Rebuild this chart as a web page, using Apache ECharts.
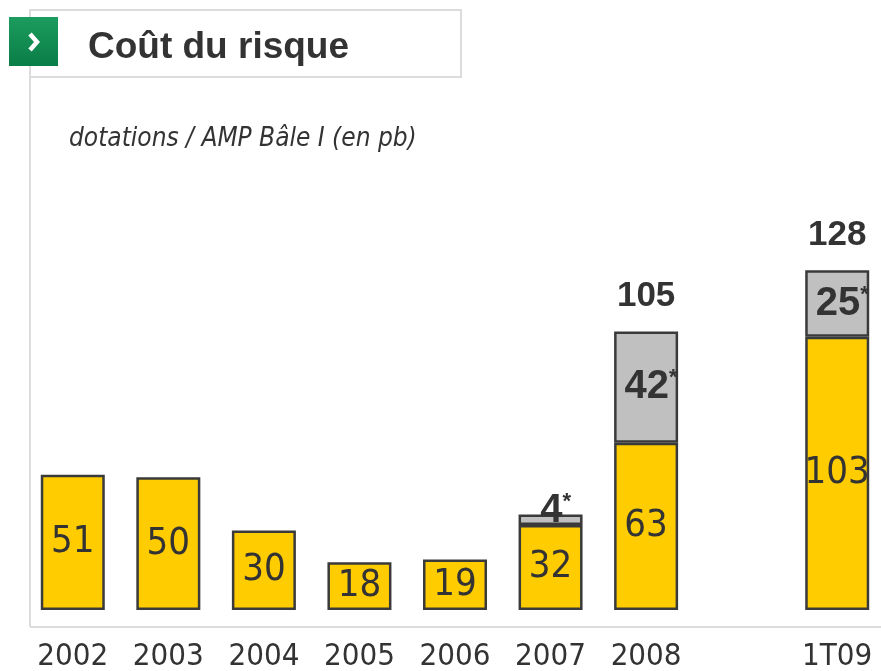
<!DOCTYPE html>
<html>
<head>
<meta charset="utf-8">
<title>Coût du risque</title>
<script src="https://cdn.jsdelivr.net/npm/echarts@6/dist/echarts.min.js"></script>
<style>
  html, body { margin: 0; padding: 0; background: #fff; }
  #chart { width: 881px; height: 671px; }
</style>
</head>
<body>
<div id="chart"></div>
<script>
  // catégories (un emplacement vide entre 2008 et 1T09)
  const categories = ['2002', '2003', '2004', '2005', '2006', '2007', '2008', '', '1T09']
  // dotations hors éléments exceptionnels (jaune)
  const baseValues = [51, 50, 30, 18, 19, 32, 63, null, 103]
  // part marquée * (gris)
  const extraValues = [null, null, null, null, null, 4, 42, null, 25]
  // totaux affichés au-dessus des barres
  const totalValues = [null, null, null, null, null, null, 105, null, 128]

  const narrow = "'Liberation Sans Narrow', 'Arial Narrow', 'DejaVu Sans Condensed', sans-serif"
  const arial = "'Liberation Sans', Arial, sans-serif"
  const dark = '#333333'

  const chart = echarts.init(document.getElementById('chart'))

  const options = {
    animation: false,
    backgroundColor: '#fff',
    title: [
      {
        text: 'Coût du risque',
        left: 88, top: 29, padding: 0,
        textStyle: { fontFamily: arial, fontSize: 37, fontWeight: 'bold', color: dark }
      },
      {
        text: 'dotations / AMP Bâle I (en pb)',
        left: 69, top: 126, padding: 0,
        textStyle: { fontFamily: narrow, fontSize: 26, fontStyle: 'italic', fontWeight: 'normal', color: dark }
      }
    ],
    graphic: [
      // cadre gris clair
      { type: 'line', z: -1, shape: { x1: 30, y1: 77, x2: 30, y2: 627 }, style: { stroke: '#dcdcdc', lineWidth: 2 } },
      { type: 'line', z: -1, shape: { x1: 30, y1: 627, x2: 881, y2: 627 }, style: { stroke: '#dcdcdc', lineWidth: 2 } },
      { type: 'rect', z: -1, shape: { x: 30, y: 10, width: 431, height: 67 }, style: { fill: '#fff', stroke: '#dcdcdc', lineWidth: 2 } },
      // pastille verte
      {
        type: 'rect', shape: { x: 9, y: 17, width: 49, height: 49 },
        style: {
          fill: new echarts.graphic.LinearGradient(0, 0, 0, 1, [
            { offset: 0, color: '#1c9c5e' }, { offset: 1, color: '#0a7d47' }
          ])
        }
      },
      { type: 'polyline', shape: { points: [[30, 34], [37, 42], [30, 50]] }, style: { stroke: '#fff', lineWidth: 4.5, fill: null } }
    ],
    grid: {
      left: 25, top: 212, width: 860, height: 398,
      outerBoundsMode: 'none'
    },
    xAxis: {
      type: 'category',
      data: categories,
      axisLine: { show: false },
      axisTick: { show: false },
      axisLabel: { interval: 0, fontFamily: narrow, fontSize: 31, color: dark, margin: 31 }
    },
    yAxis: {
      type: 'value', min: 0, max: 150, show: false,
      splitLine: { show: false }
    },
    series: [
      {
        name: 'base',
        type: 'bar',
        stack: 'total',
        barWidth: 64,
        data: baseValues,
        itemStyle: { color: '#ffcc00', borderColor: '#3a3a3a', borderWidth: 2.5 },
        label: {
          show: true, position: 'inside',
          fontFamily: narrow, fontSize: 38, color: dark
        }
      },
      {
        name: 'extra',
        type: 'bar',
        stack: 'total',
        barWidth: 64,
        data: extraValues.map(v => v === null ? null : (v < 10 ? { value: v, label: { offset: [0, -9] } } : v)),
        itemStyle: { color: '#c0c0c0', borderColor: '#3a3a3a', borderWidth: 2.5 },
        label: {
          show: true, position: 'inside',
          formatter: p => '{v|' + p.value + '}{s|*}',
          rich: {
            v: { fontFamily: arial, fontSize: 40, fontWeight: 'bold', color: dark, padding: [0, 0, 0, 10] },
            s: { fontFamily: arial, fontSize: 22, fontWeight: 'bold', color: dark, verticalAlign: 'top' }
          }
        }
      },
      {
        name: 'totaux',
        type: 'scatter',
        data: totalValues,
        symbolSize: 1,
        itemStyle: { color: 'rgba(0,0,0,0)', opacity: 1 },
        label: {
          show: true, position: 'top', distance: 17, opacity: 1,
          fontFamily: arial, fontSize: 35, fontWeight: 'bold', color: dark
        }
      }
    ]
  }

  chart.setOption(options)
</script>
</body>
</html>
